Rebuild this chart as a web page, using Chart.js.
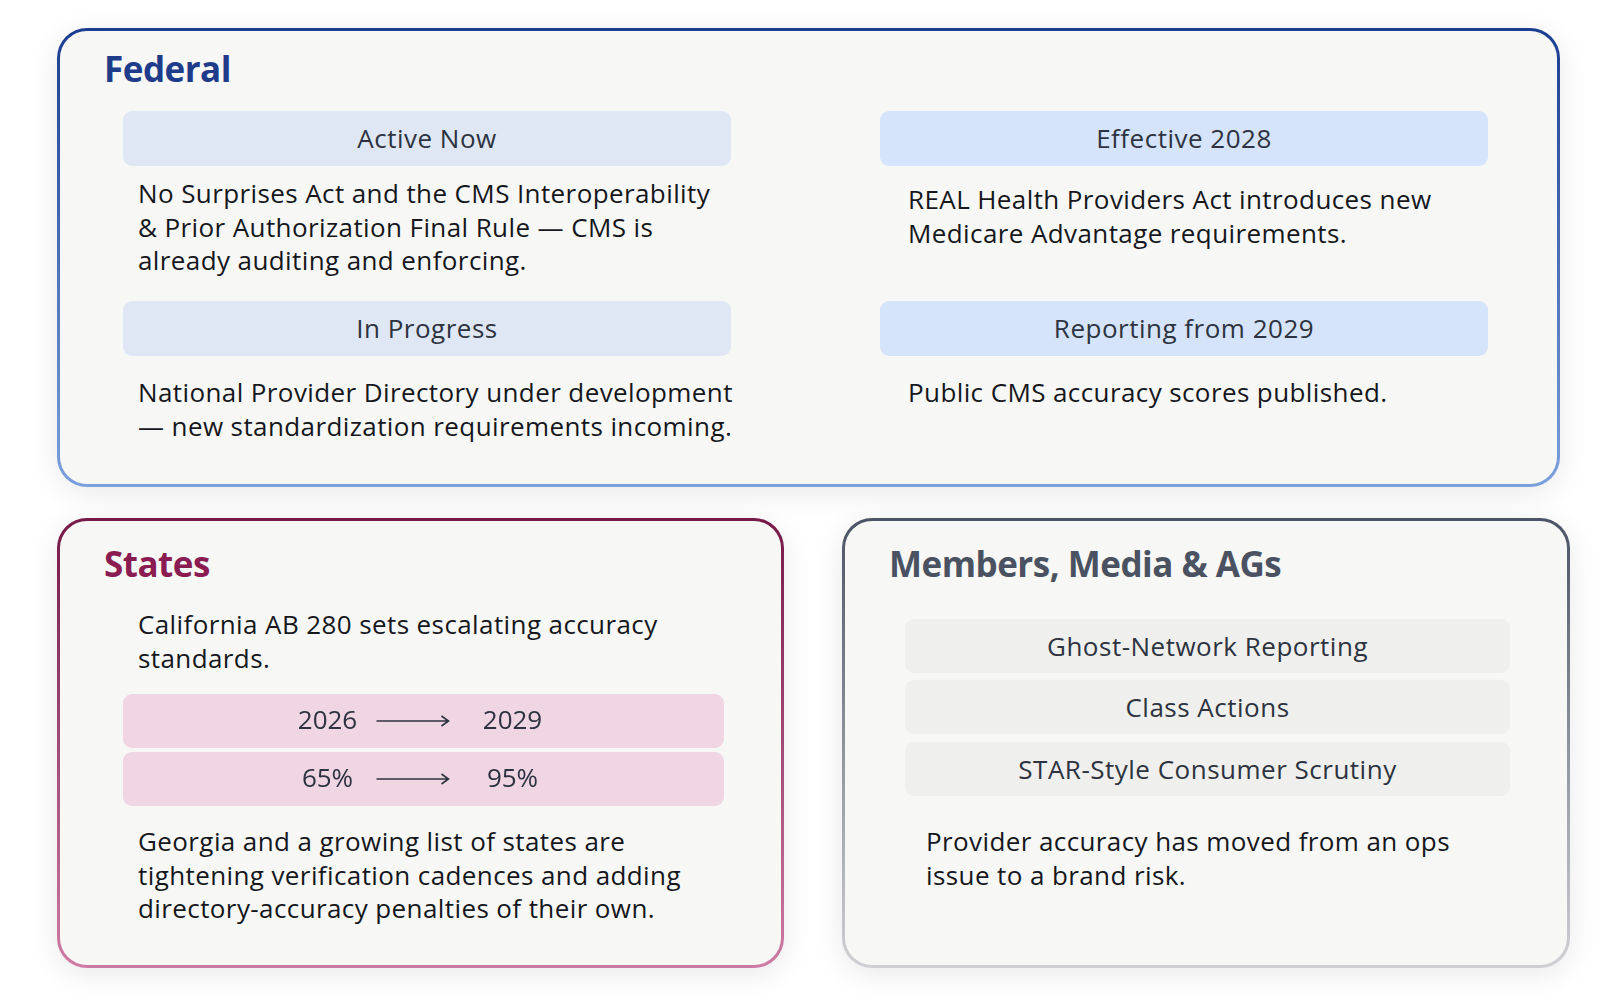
<!DOCTYPE html>
<html>
<head>
<meta charset="utf-8">
<script src="https://cdn.jsdelivr.net/npm/chart.js@4.4.1/dist/chart.umd.min.js"></script>
<style>
  html, body { margin: 0; padding: 0; background: #ffffff; }
  body { width: 1616px; height: 1004px; position: relative; overflow: hidden; font-family: "Open Sans", "Noto Sans", sans-serif; color: #15171c; }
  .card { position: absolute; box-sizing: border-box; border: 3px solid transparent; border-radius: 30px;
          box-shadow: 0 6px 30px rgba(0,0,0,0.09); }
  #federal { left: 57px; top: 28px; width: 1503px; height: 459px;
    background: linear-gradient(#f7f7f6,#f7f7f6) padding-box, linear-gradient(to bottom,#1c3e90,#7c9fdd) border-box; }
  #states { left: 57px; top: 518px; width: 727px; height: 450px;
    background: linear-gradient(#f7f7f6,#f7f7f6) padding-box, linear-gradient(to bottom,#761848,#cd7aa4) border-box; }
  #members { left: 842px; top: 518px; width: 728px; height: 450px;
    background: linear-gradient(#f7f7f6,#f7f7f6) padding-box, linear-gradient(to bottom,#4b5466,#d0d0d4) border-box; }
  .title { position: absolute; left: 44px; font-size: 35px; font-weight: 700; line-height: 40px; letter-spacing: -0.5px; }
  .pill { position: absolute; height: 55px; line-height: 55px; border-radius: 9px; text-align: center;
          font-size: 26px; letter-spacing: 0.5px; color: #2d3340; }
  .body { position: absolute; font-size: 26px; letter-spacing: 0.4px; line-height: 33.5px; color: #15171c; white-space: nowrap; }
</style>
</head>
<body>
<div class="card" id="federal">
  <div class="title" style="top:18px;color:#1e3c8a">Federal</div>
  <div class="pill" style="left:63px;top:80px;width:608px;background:#dfe7f4">Active Now</div>
  <div class="pill" style="left:820px;top:80px;width:608px;background:#d5e4fa">Effective 2028</div>
  <div class="body" style="left:78px;top:146px">No Surprises Act and the CMS Interoperability<br>&amp; Prior Authorization Final Rule — CMS is<br>already auditing and enforcing.</div>
  <div class="body" style="left:848px;top:152px">REAL Health Providers Act introduces new<br>Medicare Advantage requirements.</div>
  <div class="pill" style="left:63px;top:270px;width:608px;background:#dfe7f4">In Progress</div>
  <div class="pill" style="left:820px;top:270px;width:608px;background:#d5e4fa">Reporting from 2029</div>
  <div class="body" style="left:78px;top:345px">National Provider Directory under development<br>— new standardization requirements incoming.</div>
  <div class="body" style="left:848px;top:345px">Public CMS accuracy scores published.</div>
</div>

<div class="card" id="states">
  <div class="title" style="top:23px;color:#8a1c52">States</div>
  <div class="body" style="left:78px;top:87px">California AB 280 sets escalating accuracy<br>standards.</div>
  <div style="position:absolute;left:63px;top:171px;width:601px;height:116px"><canvas id="chart"></canvas></div>
  <div class="body" style="left:78px;top:304px">Georgia and a growing list of states are<br>tightening verification cadences and adding<br>directory-accuracy penalties of their own.</div>
</div>

<div class="card" id="members">
  <div class="title" style="top:23px;color:#4a5262">Members, Media &amp; AGs</div>
  <div class="pill" style="left:60px;top:98px;width:605px;height:54px;line-height:54px;background:#efefed">Ghost-Network Reporting</div>
  <div class="pill" style="left:60px;top:159px;width:605px;height:54px;line-height:54px;background:#efefed">Class Actions</div>
  <div class="pill" style="left:60px;top:221px;width:605px;height:54px;line-height:54px;background:#efefed">STAR-Style Consumer Scrutiny</div>
  <div class="body" style="left:81px;top:304px">Provider accuracy has moved from an ops<br>issue to a brand risk.</div>
</div>

<script>
// California AB 280 escalation rows
const rowNames = ['Year', 'Accuracy standard'];
const fromValues = ['2026', '65%'];
const toValues = ['2029', '95%'];
const rowSpan = [[0, 1], [0, 1]];

const arrowRows = {
  id: 'arrowRows',
  afterDatasetsDraw(chart) {
    const ctx = chart.ctx;
    const meta = chart.getDatasetMeta(0);
    const area = chart.chartArea;
    const cx = (area.left + area.right) / 2;
    ctx.save();
    ctx.fillStyle = '#2d3340';
    ctx.strokeStyle = '#2d3340';
    ctx.font = '26px "Open Sans", "Noto Sans", sans-serif';
    ctx.textAlign = 'center';
    ctx.textBaseline = 'middle';
    meta.data.forEach(function (bar, i) {
      const y = bar.y;
      ctx.fillText(fromValues[i], cx - 96, y + 1);
      ctx.fillText(toValues[i], cx + 89, y + 1);
      // arrow
      const x0 = cx - 47, x1 = cx + 25;
      ctx.lineWidth = 1.6;
      ctx.beginPath();
      ctx.moveTo(x0, y);
      ctx.lineTo(x1, y);
      ctx.moveTo(x1 - 7, y - 5);
      ctx.lineTo(x1, y);
      ctx.lineTo(x1 - 7, y + 5);
      ctx.stroke();
    });
    ctx.restore();
  }
};

new Chart(document.getElementById('chart'), {
  type: 'bar',
  data: {
    labels: rowNames,
    datasets: [{
      data: rowSpan,
      backgroundColor: '#f0d5e2',
      borderRadius: 9,
      borderSkipped: false,
      barPercentage: 0.93,
      categoryPercentage: 1
    }]
  },
  options: {
    indexAxis: 'y',
    responsive: true,
    maintainAspectRatio: false,
    animation: false,
    layout: { padding: 0 },
    plugins: { legend: { display: false }, tooltip: { enabled: false } },
    scales: {
      x: { display: false, min: 0, max: 1 },
      y: { display: false }
    }
  },
  plugins: [arrowRows]
});
</script>
</body>
</html>
